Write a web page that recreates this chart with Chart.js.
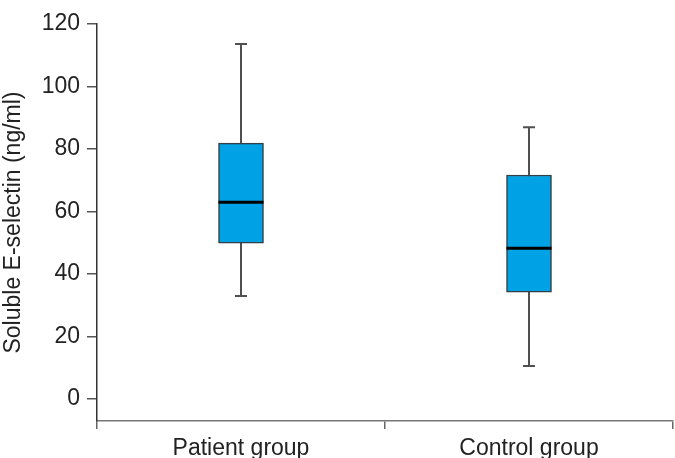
<!DOCTYPE html>
<html>
<head>
<meta charset="utf-8">
<script src="https://cdn.jsdelivr.net/npm/chart.js@4"></script>
<style>
  html, body { margin: 0; padding: 0; background: #fff; }
  #wrap { width: 675px; height: 458px; }
</style>
</head>
<body>
<div id="wrap"><canvas id="myChart" width="675" height="458"></canvas></div>
<script>
// box plot values
const groups = ["Patient group", "Control group"];
const whiskerLow = [33, 10.6];
const q1 = [49.9, 34.2];
const median = [63, 48.3];
const q3 = [81.9, 71.7];
const whiskerHigh = [113.6, 87];
const yTicks = [0, 20, 40, 60, 80, 100, 120];

const FONT = "'Liberation Sans', Arial, sans-serif";

// whiskers behind the boxes, median line on top
const boxExtras = {
  id: "boxExtras",
  beforeDatasetsDraw(chart) {
    const { ctx, scales: { x, y } } = chart;
    ctx.save();
    ctx.strokeStyle = "#505050";
    ctx.lineWidth = 2;
    groups.forEach((g, i) => {
      const cx = x.getPixelForValue(i);
      ctx.beginPath();
      ctx.moveTo(cx, y.getPixelForValue(whiskerLow[i]));
      ctx.lineTo(cx, y.getPixelForValue(whiskerHigh[i]));
      [whiskerLow[i], whiskerHigh[i]].forEach((v) => {
        const py = y.getPixelForValue(v);
        ctx.moveTo(cx - 6, py);
        ctx.lineTo(cx + 6, py);
      });
      ctx.stroke();
    });
    ctx.restore();
  },
  afterDatasetsDraw(chart) {
    const { ctx, scales: { y } } = chart;
    const meta = chart.getDatasetMeta(0);
    ctx.save();
    ctx.strokeStyle = "#000";
    ctx.lineWidth = 3;
    groups.forEach((g, i) => {
      const bar = meta.data[i];
      const half = bar.width / 2;
      const py = y.getPixelForValue(median[i]);
      ctx.beginPath();
      ctx.moveTo(bar.x - half, py);
      ctx.lineTo(bar.x + half, py);
      ctx.stroke();
    });
    ctx.restore();
  }
};

new Chart(document.getElementById("myChart"), {
  type: "bar",
  data: {
    labels: groups,
    datasets: [{
      data: groups.map((g, i) => [q1[i], q3[i]]),
      backgroundColor: "#00a2e6",
      borderColor: "#333f45",
      borderWidth: 1.5,
      borderSkipped: false,
      barThickness: 45
    }]
  },
  options: {
    responsive: false,
    animation: false,
    layout: { padding: { top: 24, right: 2, left: 0, bottom: 0 } },
    plugins: { legend: { display: false }, tooltip: { enabled: false } },
    scales: {
      x: {
        offset: true,
        grid: { offset: true, drawOnChartArea: false, tickLength: 8, color: "#666", lineWidth: 1.5 },
        border: { display: true, color: "#777", width: 1.5 },
        ticks: { color: "#222", padding: 6, font: { family: FONT, size: 23 } },
        afterFit(scale) { scale.height = 37; }
      },
      y: {
        min: -7,
        max: 120,
        afterBuildTicks(scale) { scale.ticks = yTicks.map((v) => ({ value: v })); },
        grid: { drawOnChartArea: false, tickLength: 10, color: "#555", lineWidth: 1.5 },
        border: { display: true, color: "#333", width: 1.5 },
        ticks: { color: "#222", padding: 7, font: { family: FONT, size: 23 } },
        title: {
          display: true,
          text: "Soluble E-selectin (ng/ml)",
          color: "#222",
          padding: 0,
          font: { family: FONT, size: 23 }
        },
        afterFit(scale) { scale.width = 97; }
      }
    }
  },
  plugins: [boxExtras]
});
</script>
</body>
</html>
